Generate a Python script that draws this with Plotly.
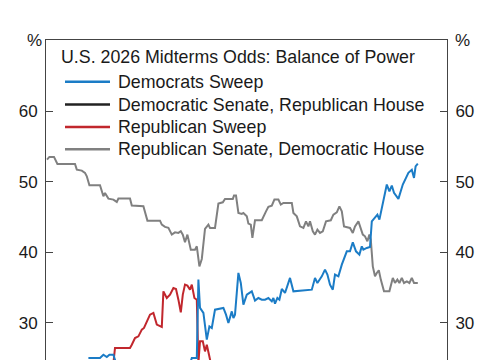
import plotly.graph_objects as go

# ---------------- data ----------------
title_text = "U.S. 2026 Midterms Odds: Balance of Power"
series_names = ["Democrats Sweep", "Democratic Senate, Republican House",
                "Republican Sweep", "Republican Senate, Democratic House"]
series_colors = ["#1b7cc6", "#222222", "#c1272d", "#808080"]
y_ticks = [30, 40, 50, 60]

gray_days = [0, 1.2, 3.5, 5.2, 14, 14.9, 17.4, 19, 19.9, 21.2, 26.5, 27.4, 28.2, 29, 30.7, 33.2,
             34.9, 35.7, 41.5, 42.4, 48.2, 50.2, 56.5, 57.4, 59, 60.7, 62.4, 64, 65.7, 66.9, 67.9,
             69, 70.2, 71.9, 74, 74.9, 76.2, 77.4, 79, 80.7, 81.5, 84, 85.7, 87.9, 89, 92.9, 93.5,
             94.5, 95.7, 97.4, 98.2, 99.9, 100.7, 101.9, 102.7, 104, 107.4, 109.5, 110.7, 112.4,
             113.7, 115.7, 116.9, 118.2, 122.4, 123.2, 124.9, 126.5, 128.2, 129.5, 130.7, 131.5,
             132.9, 134, 135.2, 136.5, 137.9, 139.5, 141.9, 143.2, 144.9, 146.2, 147.4, 148.5,
             151.5, 152.9, 154, 155.7, 156.5, 157.9, 159, 160.2, 161.2, 161.9, 162.9, 164, 164.9,
             165.9, 166.9, 168.5, 171.2, 172.9, 174, 175.2, 176.2, 177.4, 178.5, 179.9, 181.2,
             182.4, 183.5, 185.4]
gray_vals = [53.15, 53.53, 53.53, 52.54, 52.54, 51.73, 51.59, 51.27, 50.78, 49.51, 49.51, 48.66,
             47.95, 48.43, 47.62, 47.48, 47.15, 47.62, 47.62, 46.63, 46.53, 44.50, 44.50, 43.94,
             43.61, 43.47, 42.52, 42.84, 42.76, 42.99, 42.52, 41.43, 42.52, 40.39, 40.39, 40.86,
             38.02, 39.07, 43.33, 43.94, 43.47, 43.47, 46.91, 47.10, 47.58, 47.58, 48.05, 48.05,
             45.59, 45.45, 45.59, 45.11, 44.08, 43.94, 42.05, 44.55, 44.55, 45.82, 46.45, 46.63,
             47.48, 47.48, 46.77, 47.01, 47.01, 45.59, 45.11, 43.69, 43.47, 44.40, 43.69, 44.40,
             42.99, 42.52, 43.23, 42.76, 42.99, 44.40, 44.55, 45.35, 45.68, 46.53, 45.82, 43.69,
             43.47, 42.76, 43.69, 44.40, 43.69, 42.52, 42.28, 41.57, 42.52, 41.81, 38.02, 36.61,
             37.09, 37.46, 36.14, 34.48, 34.48, 36.38, 35.67, 36.14, 35.67, 36.38, 35.67, 35.90,
             35.67, 36.38, 35.67, 35.67]

blue_days = [20.7, 26.5, 28.2, 29.9, 31.2, 33.2, 34.5, 45, 60, 71.6, 72.4, 74.9, 75.7, 76.5, 78.2,
             79.9, 81.2, 82.4, 84, 86.5, 88.2, 89.5, 90.7, 92.4, 93.2, 94, 95.7, 96.9, 98.2, 99.9,
             101.5, 102.4, 104, 105.7, 107.4, 109, 110.7, 112.4, 113.2, 114, 115.2, 116.2, 117.4,
             119, 121.5, 123.2, 132.4, 134, 135.2, 137.4, 139, 140.2, 141.5, 142.9, 144, 145.7,
             147.4, 149.9, 151.5, 152.9, 154.5, 156.2, 157.4, 158.2, 159.9, 161.5, 162.4, 163.5,
             165.2, 166.2, 167.9, 169, 169.9, 171.2, 172.4, 173.5, 175.7, 177.9, 179.5, 180.7,
             182.4, 183.5, 184.3, 185.4]
blue_vals = [25.04, 25.04, 25.50, 25.18, 25.50, 25.50, 24.3, 23.6, 23.4, 24.3, 25.04, 25.04, 36.14,
             32.13, 31.42, 27.63, 29.52, 29.29, 31.88, 31.98, 32.13, 31.18, 30.00, 31.64, 30.71,
             31.18, 37.09, 35.67, 32.59, 34.01, 34.25, 34.48, 33.16, 33.54, 33.30, 33.30, 33.54,
             33.06, 33.54, 32.73, 33.54, 33.30, 34.82, 34.25, 36.38, 34.48, 34.72, 36.38, 35.67,
             36.61, 37.56, 36.85, 35.43, 34.72, 36.85, 36.61, 38.26, 40.15, 40.15, 41.43, 40.15,
             39.68, 40.86, 40.39, 40.63, 40.77, 44.40, 44.74, 45.35, 44.64, 46.77, 48.43, 49.61,
             48.66, 49.47, 48.43, 47.58, 49.61, 50.56, 51.27, 51.70, 50.56, 52.20, 52.58]

red_days = [0, 33.2, 34.0, 41.5, 42.4, 44, 45.7, 47.4, 48.5, 49.9, 51.5, 53.2, 54.9, 57.4, 58.2,
            59.9, 61.5, 63.2, 64.5, 65.7, 66.9, 67.9, 69, 70.2, 71.5, 72.4, 73.7, 74.9, 75.7, 76.5,
            77.9, 79, 79.9, 81, 81.9, 100, 140, 185.4]
red_vals = [21.0, 24.3, 26.46, 26.46, 26.92, 27.87, 28.10, 29.05, 29.29, 30.22, 31.17, 31.42, 29.76,
            29.43, 34.48, 33.54, 34.01, 34.96, 34.82, 33.30, 31.50, 34.01, 35.43, 35.29, 34.72,
            35.43, 33.54, 33.30, 24.3, 27.39, 27.39, 25.97, 26.92, 25.5, 24.3, 21.5, 19.0, 16.0]

black_days = [0, 45, 90, 135, 185.4]
black_vals = [14.0, 13.0, 12.0, 11.0, 10.0]

# ---------------- figure ----------------
# page body has an 8px default margin: figure occupies page pixels 8..485 x 8..360
OFF = 8
W, H = 485 - OFF, 360 - OFF
PL, PR, PT, PB = 46, 447, 40, 360          # plot area in page pixels
ML, MR, MT, MB = PL - OFF, (W + OFF) - PR, PT - OFF, (H + OFF) - PB
Y_RANGE = [24.75, 70.1]
X_RANGE = [-0.5, 200]
FONT = "Liberation Sans, Arial, sans-serif"
TXT = "#1a1a1a"
AX = "#444444"

fig = go.Figure()
data = [(blue_days, blue_vals), (black_days, black_vals), (red_days, red_vals), (gray_days, gray_vals)]
draw_order = [3, 1, 2, 0]
for i in draw_order:
    d, v = data[i]
    fig.add_trace(go.Scatter(x=d, y=v, mode="lines", name=series_names[i],
                             line=dict(color=series_colors[i], width=2),
                             yaxis="y2" if i == 1 else "y", showlegend=False))

axis_common = dict(range=Y_RANGE, tickvals=y_ticks, ticks="inside", ticklen=7, tickwidth=1,
                   tickcolor=AX, showline=True, linecolor=AX, linewidth=1, showgrid=False,
                   zeroline=False, tickfont=dict(family=FONT, size=17, color=TXT),
                   ticklabelstandoff=4)

fig.update_layout(
    width=W, height=H, margin=dict(l=ML, r=MR, t=MT, b=MB, autoexpand=False),
    paper_bgcolor="white", plot_bgcolor="white",
    xaxis=dict(range=X_RANGE, side="top", showline=True, linecolor=AX, linewidth=1,
               ticks="", showticklabels=False, showgrid=False, zeroline=False),
    yaxis=dict(side="left", **axis_common),
    yaxis2=dict(side="right", overlaying="y", **axis_common),
    showlegend=False,
)

pw = PR - PL
ph = PB - PT
def px_x(p):
    return (p - PL) / pw
def px_y(p):
    return (PB - p) / ph

anns = [
    dict(text="%", x=px_x(34), y=px_y(40), xanchor="center", yanchor="middle"),
    dict(text="%", x=px_x(462), y=px_y(40), xanchor="center", yanchor="middle"),
    dict(text=title_text, x=px_x(59), y=px_y(56.7), xanchor="left", yanchor="middle",
         font=dict(family=FONT, size=17.8, color=TXT)),
]
legend_rows = [81.7, 104.5, 126.9, 149.3]
shapes = []
for i, ry in enumerate(legend_rows):
    shapes.append(dict(type="line", xref="paper", yref="paper",
                       x0=px_x(65), x1=px_x(110), y0=px_y(ry), y1=px_y(ry),
                       line=dict(color=series_colors[i], width=2.5)))
    anns.append(dict(text=series_names[i], x=px_x(116), y=px_y(ry), xanchor="left",
                     yanchor="middle", font=dict(family=FONT, size=17.8, color=TXT)))
for a in anns:
    a.update(xref="paper", yref="paper", showarrow=False)
    a.setdefault("font", dict(family=FONT, size=17, color=TXT))
fig.update_layout(annotations=anns, shapes=shapes)

fig.write_html("out.html")
